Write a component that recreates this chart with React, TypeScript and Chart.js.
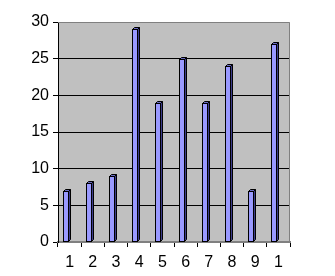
import React, { useEffect, useRef } from "react";
import { Chart, registerables } from "chart.js";

Chart.register(...registerables);

const categories = ["1", "2", "3", "4", "5", "6", "7", "8", "9", "1"];
const values = [7, 8, 9, 29, 19, 25, 19, 24, 7, 27];
const yTicks = [0, 5, 10, 15, 20, 25, 30];

const bgPlugin = {
  id: "plotBg",
  beforeDraw(chart: any) {
    const { ctx, chartArea: a } = chart;
    ctx.save();
    ctx.fillStyle = "#C0C0C0";
    ctx.fillRect(a.left, a.top, a.right - a.left, a.bottom - a.top);
    ctx.restore();
  },
  afterDraw(chart: any) {
    const { ctx, chartArea: a } = chart;
    ctx.save();
    ctx.strokeStyle = "#808080";
    ctx.lineWidth = 1;
    ctx.beginPath();
    ctx.moveTo(a.left, a.top + 0.5);
    ctx.lineTo(a.right - 0.5, a.top + 0.5);
    ctx.lineTo(a.right - 0.5, a.bottom);
    ctx.stroke();
    ctx.restore();
  },
};

const bar3dPlugin = {
  id: "bar3d",
  afterDatasetsDraw(chart: any) {
    const { ctx } = chart;
    const meta = chart.getDatasetMeta(0);
    ctx.save();
    ctx.lineWidth = 1;
    ctx.strokeStyle = "#000000";
    ctx.lineJoin = "miter";
    meta.data.forEach((el: any) => {
      const w = 5;
      const d = 2;
      const fl = Math.round(el.x - 7) + 0.5;
      const top = Math.round(el.y) + 0.5;
      const base = Math.round(el.base) - 0.5;
      ctx.fillStyle = "#3C3C8C";
      ctx.beginPath();
      ctx.moveTo(fl + w, top);
      ctx.lineTo(fl + w + d, top - d);
      ctx.lineTo(fl + w + d, base - d);
      ctx.lineTo(fl + w, base);
      ctx.closePath();
      ctx.fill();
      ctx.stroke();
      ctx.fillStyle = "#6A6AC0";
      ctx.beginPath();
      ctx.moveTo(fl, top);
      ctx.lineTo(fl + d, top - d);
      ctx.lineTo(fl + w + d, top - d);
      ctx.lineTo(fl + w, top);
      ctx.closePath();
      ctx.fill();
      ctx.stroke();
      ctx.fillStyle = "#9999FF";
      ctx.fillRect(fl, top, w, base - top);
      ctx.strokeRect(fl, top, w, base - top);
    });
    ctx.restore();
  },
};

export default function App() {
  const ref = useRef<HTMLCanvasElement>(null);
  useEffect(() => {
    document.body.style.margin = "0";
    const chart = new Chart(ref.current!, {
      type: "bar",
      data: {
        labels: categories,
        datasets: [
          {
            data: values,
            backgroundColor: "rgba(0,0,0,0)",
            borderWidth: 0,
          },
        ],
      },
      options: {
        animation: false,
        responsive: false,
        maintainAspectRatio: false,
        layout: { padding: { top: 22, right: 45, bottom: 0, left: 0 } },
        plugins: { legend: { display: false }, tooltip: { enabled: false } },
        scales: {
          x: {
            offset: true,
            afterFit(scale: any) {
              scale.height = 34;
            },
            grid: {
              offset: true,
              drawOnChartArea: false,
              drawTicks: true,
              tickLength: 5,
              tickColor: "#000000",
              color: "#000000",
            },
            border: { display: true, color: "#808080", width: 2 },
            ticks: {
              color: "#000000",
              font: { family: "Arial, 'Liberation Sans'", size: 16 },
              padding: 6,
              maxRotation: 0,
              autoSkip: false,
            },
          },
          y: {
            min: 0,
            max: 30,
            afterBuildTicks(scale: any) {
              scale.ticks = yTicks.map((v) => ({ value: v }));
            },
            afterFit(scale: any) {
              scale.width = 58;
            },
            grid: {
              color: (c: any) =>
                c.tick && (c.tick.value === 30 || c.tick.value === 0)
                  ? "rgba(0,0,0,0)"
                  : "#000000",
              tickColor: "#000000",
              tickLength: 5,
              lineWidth: 1,
            },
            border: { display: true, color: "#000000", width: 1 },
            ticks: {
              color: "#000000",
              font: { family: "Arial, 'Liberation Sans'", size: 16 },
              padding: 4,
            },
          },
        },
      },
      plugins: [bgPlugin, bar3dPlugin],
    });
    return () => chart.destroy();
  }, []);
  return <canvas ref={ref} width={335} height={276} style={{ display: "block" }} />;
}
